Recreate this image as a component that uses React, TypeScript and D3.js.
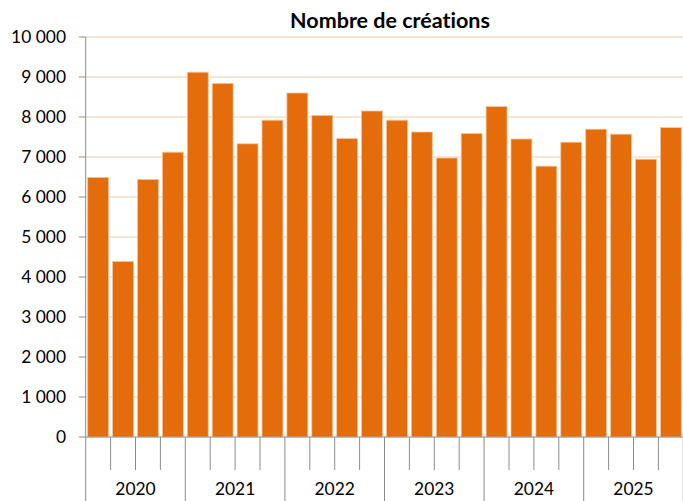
import React from "react";
import * as d3 from "d3";

// Quarterly values, 2020 Q1 -> 2025 Q4
const years = ["2020", "2021", "2022", "2023", "2024", "2025"];
const quarters = ["T1", "T2", "T3", "T4"];
const creations = [
  6490, 4390, 6440, 7120,
  9120, 8840, 7330, 7920,
  8600, 8040, 7460, 8150,
  7920, 7625, 6975, 7585,
  8260, 7450, 6770, 7370,
  7695, 7570, 6945, 7735,
];
const yTicks = [0, 1000, 2000, 3000, 4000, 5000, 6000, 7000, 8000, 9000, 10000];
const title = "Nombre de créations";

const W = 683, H = 501;
const margin = { top: 37, right: 0, bottom: 64, left: 85.7 };
const FONT = "Lato, 'Open Sans', sans-serif";

export default function App() {
  const keys = years.flatMap(y => quarters.map(q => `${y}-${q}`));
  const x = d3.scaleBand<string>()
    .domain(keys)
    .range([margin.left, 683.3])
    .paddingInner(0.16)
    .paddingOuter(0.08);
  const y = d3.scaleLinear().domain([0, 10000]).range([H - margin.bottom, margin.top]);
  const fmt = (v: number) => d3.format(",")(v).replace(/,/g, " ");

  const step = x.step();
  const x0 = margin.left;
  const y0 = y(0);
  const yearStep = step * 4;

  return (
    <svg width={W} height={H} style={{ position: "absolute", left: 0, top: 0, background: "#fff" }}>
      <text x={390} y={27.5} textAnchor="middle" fontFamily={FONT} fontWeight={700} fontSize={21.5} fill="#000"
        style={{ fontVariantLigatures: "none" }}>
        {title}
      </text>
      {/* gridlines */}
      {yTicks.slice(1).map(t => (
        <line key={t} x1={x0} x2={W} y1={y(t)} y2={y(t)} stroke="#fbdcc4" strokeWidth={1.5} />
      ))}
      {/* bars */}
      {creations.map((v, i) => (
        <rect
          key={keys[i]}
          x={x(keys[i])}
          y={y(v)}
          width={x.bandwidth()}
          height={y0 - y(v)}
          fill="#e46c0a"
          stroke="#f6c49c"
          strokeWidth={0.8}
        />
      ))}
      {/* y axis */}
      <line x1={x0} x2={x0} y1={y(10000)} y2={y0} stroke="#8c8c8c" strokeWidth={1} />
      {yTicks.map(t => (
        <g key={t}>
          <line x1={x0 - 7} x2={x0} y1={y(t)} y2={y(t)} stroke="#8c8c8c" strokeWidth={1} />
          <text x={66} y={y(t)} dy="0.36em" textAnchor="end" fontFamily={FONT} fontSize={17.4} fill="#000">
            {fmt(t)}
          </text>
        </g>
      ))}
      {/* x axis */}
      <line x1={x0} x2={W} y1={y0} y2={y0} stroke="#8c8c8c" strokeWidth={1} />
      {d3.range(0, keys.length + 1).map(k => (
        <line
          key={k}
          x1={x0 + k * step}
          x2={x0 + k * step}
          y1={y0}
          y2={k % 4 === 0 ? H : y0 + 33}
          stroke="#8c8c8c"
          strokeWidth={1}
        />
      ))}
      {years.map((yr, i) => (
        <text key={yr} x={x0 + i * yearStep + yearStep / 2} y={495} textAnchor="middle" fontFamily={FONT} fontSize={17.4} fill="#000">
          {yr}
        </text>
      ))}
    </svg>
  );
}
